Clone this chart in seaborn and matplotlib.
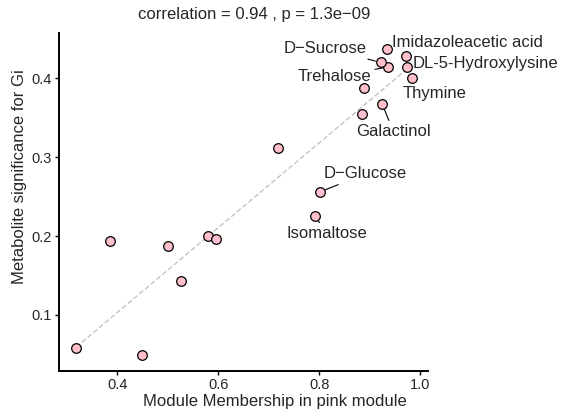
import numpy as np
import pandas as pd
import matplotlib
matplotlib.use("Agg")
import matplotlib.pyplot as plt
import seaborn as sns

# ===============================
# Data
# ===============================
names = ["", "", "", "", "", "", "", "", "Isomaltose", "D\u2212Glucose",
         "", "Galactinol", "", "Trehalose", "D\u2212Sucrose",
         "Imidazoleacetic acid", "", "DL-5-Hydroxylysine", "Thymine"]
mm = [0.319, 0.386, 0.450, 0.501, 0.526, 0.580, 0.595, 0.719, 0.792, 0.802,
      0.884, 0.925, 0.888, 0.936, 0.922, 0.934, 0.971, 0.973, 0.983]
gs = [0.058, 0.194, 0.049, 0.188, 0.143, 0.200, 0.196, 0.311, 0.225, 0.256,
      0.355, 0.367, 0.388, 0.414, 0.420, 0.437, 0.428, 0.414, 0.400]

# label offsets in pixels (dx, dy) and whether a leader line is drawn
label_dx = {"Isomaltose": 12, "D\u2212Glucose": 45, "Galactinol": 11,
            "Trehalose": -53, "D\u2212Sucrose": -56, "Imidazoleacetic acid": 81,
            "DL-5-Hydroxylysine": 79, "Thymine": 23}
label_dy = {"Isomaltose": -17, "D\u2212Glucose": 18, "Galactinol": -27,
            "Trehalose": -9, "D\u2212Sucrose": 14, "Imidazoleacetic acid": 6,
            "DL-5-Hydroxylysine": 4, "Thymine": -15}
with_line = ["Isomaltose", "D\u2212Glucose", "Galactinol", "Trehalose", "D\u2212Sucrose"]

df = pd.DataFrame({"name": names, "mm": mm, "gs": gs})

sns.set_style("ticks")
plt.rcParams["font.family"] = ["Liberation Sans", "DejaVu Sans"]

fig = plt.figure(figsize=(5.62, 4.15), dpi=100)
ax = fig.add_axes([0.105, 0.106, 0.657, 0.814])

sns.regplot(data=df, x="mm", y="gs", scatter=False, ci=None, ax=ax,
            line_kws=dict(color="#bebebe", lw=0.9, ls=(0, (4, 2))))
sns.scatterplot(data=df, x="mm", y="gs", ax=ax, s=48, color="#ffc0cb",
                edgecolor="black", linewidth=0.9, zorder=3)

for _, row in df[df["name"] != ""].iterrows():
    n = row["name"]
    arrow = dict(arrowstyle="-", lw=0.8, color="black", shrinkA=0, shrinkB=4) if n in with_line else None
    ax.annotate(n, (row["mm"], row["gs"]), xytext=(label_dx[n], label_dy[n]),
                textcoords="offset pixels", ha="center", va="center",
                fontsize=12, arrowprops=arrow, zorder=4)

ax.set_xlim(0.285, 1.016)
ax.set_ylim(0.029, 0.457)
ax.set_xticks([0.4, 0.6, 0.8, 1.0])
ax.set_xticklabels(["0.4", "0.6", "0.8", "1.0"])
ax.set_yticks([0.1, 0.2, 0.3, 0.4])
ax.set_yticklabels(["0.1", "0.2", "0.3", "0.4"])
ax.tick_params(labelsize=10.5, length=3, width=1, color="black", pad=2)
ax.set_xlabel("")
ax.set_ylabel("")
for s in ["left", "bottom"]:
    ax.spines[s].set_linewidth(1.4)
    ax.spines[s].set_color("black")
sns.despine(ax=ax)

fig.text(254 / 562, 1 - 15 / 415, "correlation = 0.94 , p = 1.3e\u221209",
         ha="center", va="center", fontsize=12)
fig.text(275 / 562, 1 - 401 / 415, "Module Membership in pink module",
         ha="center", va="center", fontsize=12)
fig.text(20 / 562, 1 - 177 / 415, "Metabolite significance for Gi",
         ha="center", va="center", rotation=90, fontsize=12)

fig.savefig("out.png", dpi=100)
